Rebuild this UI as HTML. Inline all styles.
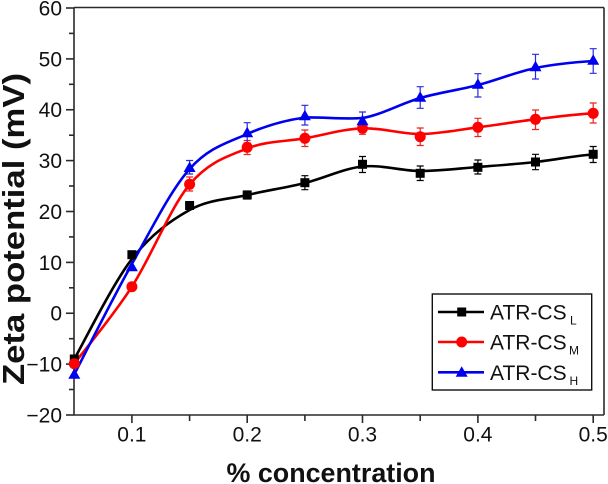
<!DOCTYPE html>
<html><head><meta charset="utf-8"><style>
html,body{margin:0;padding:0;background:#fff;}
svg{display:block;}
text{font-family:"Liberation Sans",Arial,sans-serif;fill:#111;}
</style></head><body>
<svg width="608" height="484" viewBox="0 0 608 484" xmlns="http://www.w3.org/2000/svg">
<rect width="608" height="484" fill="#fff"/>
<g stroke="#2a2a2a" stroke-width="1.6" fill="none">
<line x1="74" y1="7.5" x2="604" y2="7.5"/>
<line x1="604" y1="7.5" x2="604" y2="415"/>
<line x1="74" y1="7.5" x2="74" y2="415"/>
<line x1="74" y1="415" x2="604" y2="415"/>
<line x1="66" y1="8" x2="74" y2="8"/>
<line x1="66" y1="58.9" x2="74" y2="58.9"/>
<line x1="66" y1="109.75" x2="74" y2="109.75"/>
<line x1="66" y1="160.6" x2="74" y2="160.6"/>
<line x1="66" y1="211.5" x2="74" y2="211.5"/>
<line x1="66" y1="262.4" x2="74" y2="262.4"/>
<line x1="66" y1="313.25" x2="74" y2="313.25"/>
<line x1="66" y1="364.1" x2="74" y2="364.1"/>
<line x1="66" y1="415" x2="74" y2="415"/>
<line x1="69" y1="33.4" x2="74" y2="33.4"/>
<line x1="69" y1="84.3" x2="74" y2="84.3"/>
<line x1="69" y1="135.2" x2="74" y2="135.2"/>
<line x1="69" y1="186" x2="74" y2="186"/>
<line x1="69" y1="236.9" x2="74" y2="236.9"/>
<line x1="69" y1="287.8" x2="74" y2="287.8"/>
<line x1="69" y1="338.7" x2="74" y2="338.7"/>
<line x1="69" y1="389.5" x2="74" y2="389.5"/>
<line x1="131.9" y1="415" x2="131.9" y2="423"/>
<line x1="247.2" y1="415" x2="247.2" y2="423"/>
<line x1="362.5" y1="415" x2="362.5" y2="423"/>
<line x1="477.9" y1="415" x2="477.9" y2="423"/>
<line x1="593.2" y1="415" x2="593.2" y2="423"/>
<line x1="189.6" y1="415" x2="189.6" y2="421"/>
<line x1="304.9" y1="415" x2="304.9" y2="421"/>
<line x1="420.2" y1="415" x2="420.2" y2="421"/>
<line x1="535.5" y1="415" x2="535.5" y2="421"/>
</g>
<g font-size="21" text-anchor="end">
<text x="62" y="15.5">60</text>
<text x="62" y="66.4">50</text>
<text x="62" y="117.2">40</text>
<text x="62" y="168.1">30</text>
<text x="62" y="219">20</text>
<text x="62" y="269.9">10</text>
<text x="62" y="320.7">0</text>
<text x="62" y="371.6">−10</text>
<text x="62" y="422.5">−20</text>
</g>
<g font-size="21" text-anchor="middle">
<text x="131.9" y="441.7">0.1</text>
<text x="247.2" y="441.7">0.2</text>
<text x="362.5" y="441.7">0.3</text>
<text x="477.9" y="441.7">0.4</text>
<text x="593.2" y="441.7">0.5</text>
</g>
<text x="331" y="482" font-size="27" font-weight="bold" text-anchor="middle" textLength="209" lengthAdjust="spacingAndGlyphs">% concentration</text>
<text transform="translate(24,229) rotate(-90)" x="0" y="0" font-size="31" font-weight="bold" text-anchor="middle" textLength="312" lengthAdjust="spacingAndGlyphs">Zeta potential (mV)</text>

<g stroke="#000" stroke-width="1.2" fill="none">
<path d="M131.9 252.7V256.7M128.4 252.7h7M128.4 256.7h7"/>
<path d="M189.6 202.5V208.5M186.1 202.5h7M186.1 208.5h7"/>
<path d="M247.2 191V199M243.7 191h7M243.7 199h7"/>
<path d="M304.9 175.7V189.7M301.4 175.7h7M301.4 189.7h7"/>
<path d="M362.5 156.5V172.5M359 156.5h7M359 172.5h7"/>
<path d="M420.2 166V180.5M416.7 166h7M416.7 180.5h7"/>
<path d="M477.9 160V174M474.4 160h7M474.4 174h7"/>
<path d="M535.5 154.3V169.7M532 154.3h7M532 169.7h7"/>
<path d="M593.2 146.5V162.5M589.7 146.5h7M589.7 162.5h7"/>
</g>
<g stroke="#ee2020" stroke-width="1.2" fill="none">
<path d="M189.6 177V191M186.1 177h7M186.1 191h7"/>
<path d="M247.2 140.5V154.5M243.7 140.5h7M243.7 154.5h7"/>
<path d="M304.9 130V146.5M301.4 130h7M301.4 146.5h7"/>
<path d="M362.5 122.3V134.3M359 122.3h7M359 134.3h7"/>
<path d="M420.2 128V145.5M416.7 128h7M416.7 145.5h7"/>
<path d="M477.9 118.3V136.5M474.4 118.3h7M474.4 136.5h7"/>
<path d="M535.5 110V129.5M532 110h7M532 129.5h7"/>
<path d="M593.2 103V123M589.7 103h7M589.7 123h7"/>
</g>
<g stroke="#2a2ae0" stroke-width="1.2" fill="none">
<path d="M189.6 160.5V174M186.1 160.5h7M186.1 174h7"/>
<path d="M247.2 122.7V143M243.7 122.7h7M243.7 143h7"/>
<path d="M304.9 105.3V125M301.4 105.3h7M301.4 125h7"/>
<path d="M362.5 112V125M359 112h7M359 125h7"/>
<path d="M420.2 86.7V108.3M416.7 86.7h7M416.7 108.3h7"/>
<path d="M477.9 73.7V97M474.4 73.7h7M474.4 97h7"/>
<path d="M535.5 54.3V79M532 54.3h7M532 79h7"/>
<path d="M593.2 48.7V73.3M589.7 48.7h7M589.7 73.3h7"/>
</g>

<path fill="none" stroke="#000" stroke-width="2.6" stroke-linejoin="round" d="M74.3 359 C83.9 342.3 112.7 283.8 131.9 259 C151.1 234.2 170.4 220.7 189.6 210 C208.8 199.3 228 199.5 247.2 195 C266.4 190.5 285.7 187.75 304.9 183 C324.1 178.25 343.3 168.5 362.5 166.5 C381.7 164.5 401 170.9 420.2 171 C439.4 171.1 458.7 168.5 477.9 167 C497.1 165.5 516.3 164.1 535.5 162 C554.7 159.9 574 155.75 593.2 154.5"/>
<path fill="none" stroke="#ff0000" stroke-width="2.6" stroke-linejoin="round" d="M74.3 363.7 C83.9 350.9 112.7 316.6 131.9 286.7 C151.1 256.8 170.4 207.5 189.6 184.5 C208.8 161.5 228 156.2 247.2 148.5 C266.4 140.8 285.7 141.7 304.9 138.3 C324.1 134.9 343.3 129 362.5 128.3 C381.7 127.6 401 134.17 420.2 134 C439.4 133.8 458.7 129.75 477.9 127.3 C497.1 124.85 516.3 121.6 535.5 119.3 C554.7 116.97 574 114.3 593.2 113.3"/>
<path fill="none" stroke="#0000f0" stroke-width="2.6" stroke-linejoin="round" d="M74.3 374.3 C83.9 355.9 112.7 298.2 131.9 264 C151.1 229.8 170.4 190.7 189.6 169 C208.8 147.3 228 142.6 247.2 134 C266.4 125.4 285.7 120.2 304.9 117.5 C324.1 117 343.3 119.5 362.5 118 C381.7 114.75 401 103.5 420.2 98 C439.4 92.5 458.7 90 477.9 85 C497.1 80 516.3 72 535.5 68 C554.7 64 574 62.2 593.2 61"/>

<g fill="#000">
<rect x="69.8" y="354.5" width="9" height="9"/>
<rect x="127.4" y="250.2" width="9" height="9"/>
<rect x="185.1" y="201" width="9" height="9"/>
<rect x="242.7" y="190.5" width="9" height="9"/>
<rect x="300.4" y="178.2" width="9" height="9"/>
<rect x="358" y="159.8" width="9" height="9"/>
<rect x="415.7" y="168.8" width="9" height="9"/>
<rect x="473.4" y="162.8" width="9" height="9"/>
<rect x="531" y="157.5" width="9" height="9"/>
<rect x="588.7" y="149.8" width="9" height="9"/>
</g>
<g fill="#ff0000">
<circle cx="74.3" cy="363.7" r="5.5"/>
<circle cx="131.9" cy="286.7" r="5.5"/>
<circle cx="189.6" cy="184.3" r="5.5"/>
<circle cx="247.2" cy="147.3" r="5.5"/>
<circle cx="304.9" cy="138.3" r="5.5"/>
<circle cx="362.5" cy="128.3" r="5.5"/>
<circle cx="420.2" cy="136.7" r="5.5"/>
<circle cx="477.9" cy="127.3" r="5.5"/>
<circle cx="535.5" cy="119.3" r="5.5"/>
<circle cx="593.2" cy="113.3" r="5.5"/>
</g>
<g fill="#0000f0">
<path d="M74.3 368.3l-6 10.5h12z"/>
<path d="M131.9 260.7l-6 10.5h12z"/>
<path d="M189.6 161.5l-6 10.5h12z"/>
<path d="M247.2 126.7l-6 10.5h12z"/>
<path d="M304.9 109.7l-6 10.5h12z"/>
<path d="M362.5 114.7l-6 10.5h12z"/>
<path d="M420.2 91.3l-6 10.5h12z"/>
<path d="M477.9 78.3l-6 10.5h12z"/>
<path d="M535.5 60.7l-6 10.5h12z"/>
<path d="M593.2 54.3l-6 10.5h12z"/>
</g>

<rect x="432.3" y="294" width="159.4" height="96" fill="#fff" stroke="#111" stroke-width="1.4"/>
<line x1="438" y1="312" x2="484" y2="312" stroke="#000" stroke-width="2.6"/>
<rect x="457.2" y="307.5" width="9" height="9" fill="#000"/>
<line x1="438" y1="342" x2="484" y2="342" stroke="#ff0000" stroke-width="2.6"/>
<circle cx="461.7" cy="342" r="5.5" fill="#ff0000"/>
<line x1="438" y1="372.3" x2="484" y2="372.3" stroke="#0000f0" stroke-width="2.6"/>
<path d="M461.7 366.3l-6 10.5h12z" fill="#0000f0"/>
<g font-size="21">
<text x="490" y="319.5">ATR-CS</text>
<text x="490" y="349.5">ATR-CS</text>
<text x="490" y="379.8">ATR-CS</text>
</g>
<g font-size="12">
<text x="570" y="324.7">L</text>
<text x="569" y="354.7">M</text>
<text x="569.5" y="384.8">H</text>
</g>
</svg>
</body></html>
